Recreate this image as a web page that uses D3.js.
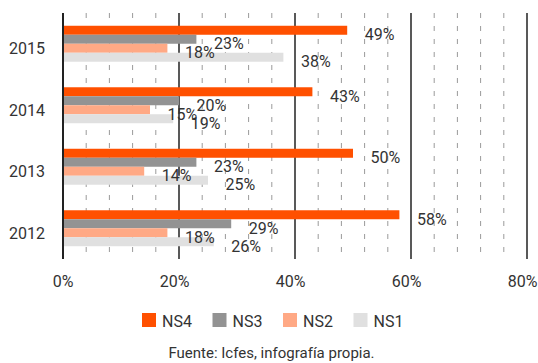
<!DOCTYPE html>
<html><head><meta charset="utf-8">
<script src="https://cdn.jsdelivr.net/npm/d3@7"></script>
<style>
html,body{margin:0;padding:0;background:#fff;}
text{font-family:Roboto,"Liberation Sans",Arial,sans-serif;fill:#333;font-weight:400;}
</style></head>
<body>
<svg id="chart" width="538" height="363"></svg>
<script>
const years = ["2015","2014","2013","2012"];
const seriesNames = ["NS4","NS3","NS2","NS1"];
const ns4 = [49, 43, 50, 58];
const ns3 = [23, 20, 23, 29];
const ns2 = [18, 15, 14, 18];
const ns1 = [38, 19, 25, 26];
const tickValues = [0, 20, 40, 60, 80];
const tickLabels = ["0%", "20%", "40%", "60%", "80%"];
const colors = ["#FF5000", "#939393", "#FFA985", "#E0E0E0"];
const source = "Fuente: Icfes, infografía propia.";

const seriesValues = [ns4, ns3, ns2, ns1];
const svg = d3.select("#chart");
const x = d3.scaleLinear().domain([0, 80]).range([63, 527]);
const y = d3.scaleBand().domain(years).range([13, 259]).paddingInner(0.415).paddingOuter(0.2075);
const ys = d3.scaleBand().domain(seriesNames).range([0, y.bandwidth()]);

// minor dashed grid
const minor = d3.range(4, 80, 4).filter(d => d % 20 !== 0);
svg.append("g").selectAll("line").data(minor).join("line")
  .attr("x1", d => x(d)).attr("x2", d => x(d))
  .attr("y1", 13).attr("y2", 259)
  .attr("stroke", "#9a9a9a").attr("stroke-width", 1)
  .attr("stroke-dasharray", "5,8");

// major grid
svg.append("g").selectAll("line").data(tickValues.slice(1)).join("line")
  .attr("x1", d => x(d)).attr("x2", d => x(d))
  .attr("y1", 13).attr("y2", 259)
  .attr("stroke", "#222").attr("stroke-width", 1.5);

// bars
const rows = [];
years.forEach((yr, i) => seriesNames.forEach((s, j) => rows.push({yr, s, v: seriesValues[j][i], c: colors[j]})));
svg.append("g").selectAll("rect").data(rows).join("rect")
  .attr("x", x(0))
  .attr("y", d => y(d.yr) + ys(d.s))
  .attr("width", d => x(d.v) - x(0))
  .attr("height", ys.bandwidth())
  .attr("fill", d => d.c);

// axis line at 0
svg.append("line").attr("x1", x(0)).attr("x2", x(0)).attr("y1", 13).attr("y2", 259)
  .attr("stroke", "#222").attr("stroke-width", 2);

// value labels
svg.append("g").selectAll("text").data(rows).join("text")
  .attr("x", d => x(d.v) + 17.5)
  .attr("y", d => y(d.yr) + ys(d.s) + ys.bandwidth() / 2 + 10)
  .attr("font-size", 16)
  .text(d => d.v + "%");

// year labels
svg.append("g").selectAll("text").data(years).join("text")
  .attr("x", 45)
  .attr("y", d => y(d) + y.bandwidth() / 2 + 10.5)
  .attr("text-anchor", "end")
  .attr("font-size", 16)
  .text(d => d);

// x tick labels
svg.append("g").selectAll("text").data(tickValues).join("text")
  .attr("x", d => x(d) + 10.5)
  .attr("y", 287)
  .attr("text-anchor", "end")
  .attr("font-size", 16)
  .text((d, i) => tickLabels[i]);

// legend
const lg = svg.append("g").selectAll("g").data(seriesNames).join("g")
  .attr("transform", (d, i) => `translate(${142 + i * 70.5},313)`);
lg.append("rect").attr("width", 14).attr("height", 14).attr("fill", (d, i) => colors[i]);
lg.append("text").attr("x", 20).attr("y", 14).attr("font-size", 16).text(d => d);

// source
svg.append("text").attr("x", 271.5).attr("y", 358).attr("text-anchor", "middle")
  .attr("font-size", 15).text(source);
</script>
</body></html>
